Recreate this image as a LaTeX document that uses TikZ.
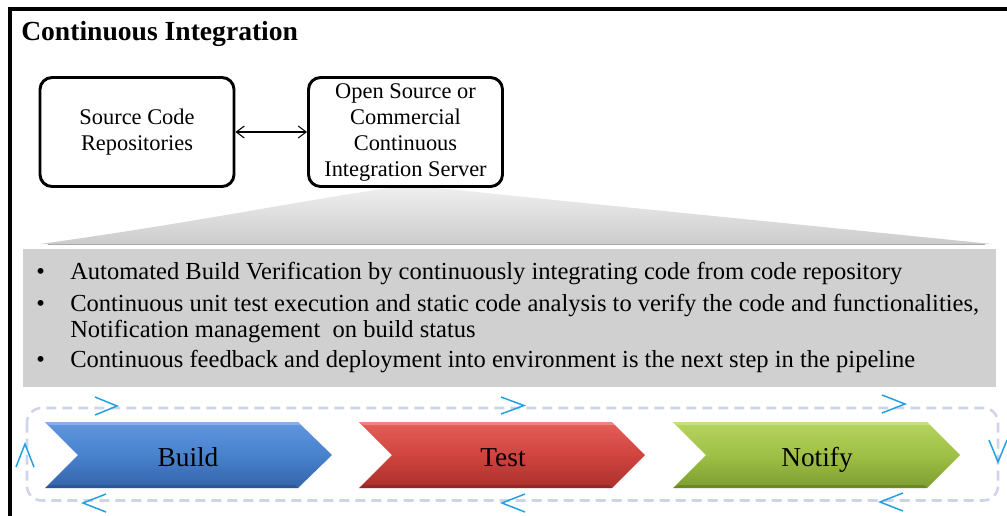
\documentclass[tikz,border=0pt]{standalone}
\usepackage{fontspec}
\setmainfont{Liberation Serif}
\usetikzlibrary{arrows.meta}
\definecolor{panelgray}{RGB}{208,208,208}
\definecolor{loopcol}{RGB}{208,212,232}
\definecolor{markcol}{RGB}{30,160,225}
\definecolor{blueT}{RGB}{96,150,222}
\definecolor{blueM}{RGB}{72,130,205}
\definecolor{blueB}{RGB}{52,100,170}
\definecolor{redT}{RGB}{228,95,88}
\definecolor{redM}{RGB}{208,68,62}
\definecolor{redB}{RGB}{170,48,44}
\definecolor{grnT}{RGB}{182,212,95}
\definecolor{grnM}{RGB}{158,192,70}
\definecolor{grnB}{RGB}{125,158,48}
\tikzset{
  box/.style={draw=black, line width=2.2pt, rounded corners=9pt, fill=white,
    minimum width=145.5pt, minimum height=81.75pt, align=center,
    font=\fontsize{16.8}{19.5}\selectfont, inner sep=0pt},
  bullettext/.style={anchor=base west, inner sep=0pt, font=\fontsize{18.4}{22}\selectfont},
  chevlabel/.style={anchor=base, inner sep=0pt, font=\fontsize{20.5}{24}\selectfont},
  loopmark/.style={draw=markcol, line width=1.1pt},
}
\begin{document}
\begin{tikzpicture}[x=0.75pt,y=-0.75pt]
\useasboundingbox (0,0) rectangle (1007,515);
% frame
\draw[line width=2.3pt] (10,520) -- (10,9) -- (1012,9);
% title
\node[anchor=base west, inner sep=0pt, font=\fontsize{20.7}{24}\selectfont\bfseries] (title) at (21,40) {Continuous Integration};
% callout trapezoid
\shade[top color=white!94!black, bottom color=white!80!black]
  (40,244) .. controls (200,222) and (330,195) .. (405,186)
  .. controls (440,188) and (480,192) .. (495,194) -- (992,244) -- cycle;
\draw[line width=1.3pt, white!66!black] (48,244.5) -- (985,244.5);
% panel
\fill[panelgray] (23,249) rectangle (996,387);
% boxes
\node[box] (src) at (137,132) {Source Code\\Repositories};
\node[box] (ci) at (405.5,132) {Open Source or\\Commercial\\Continuous\\Integration Server};
\draw[line width=0.8pt, {Straight Barb[length=6pt,width=9pt]}-{Straight Barb[length=6pt,width=9pt]}] (src.east) -- (ci.west);
% bullets
\node[bullettext] (b1) at (36,279) {\textbullet};
\node[bullettext] (b2) at (36,311) {\textbullet};
\node[bullettext] (b3) at (36,367) {\textbullet};
\node[bullettext] (t1) at (70,279) {Automated Build Verification by continuously integrating code from code repository};
\node[bullettext] (t2) at (70,311) {Continuous unit test execution and static code analysis to verify the code and functionalities,};
\node[bullettext] (t3) at (70,337) {Notification management \ on build status};
\node[bullettext] (t4) at (70,367) {Continuous feedback and deployment into environment is the next step in the pipeline};
% dashed loop
\draw[loopcol, line width=1.9pt, dash pattern=on 7.5pt off 4.5pt, rounded corners=11pt] (27,408) rectangle (998,500.5);
% loop marks
\draw[loopmark] (95,397) -- (117,406) -- (95,415);
\draw[loopmark] (501,397) -- (524,405.5) -- (501,414);
\draw[loopmark] (882,395) -- (905,404) -- (882,413);
\draw[loopmark] (106,494) -- (83,503) -- (106,512);
\draw[loopmark] (525,494) -- (502,503) -- (525,512);
\draw[loopmark] (903,493) -- (880,502) -- (903,511);
\draw[loopmark] (16,467) -- (25,444) -- (34,467);
\draw[loopmark] (989,440) -- (998,462) -- (1007,440);
% chevrons
\shade[top color=blueT, bottom color=blueB, middle color=blueM]
  (45,422) -- (298,422) -- (332,455) -- (298,488) -- (45,488) -- (78,455) -- cycle;
\shade[top color=redT, bottom color=redB, middle color=redM]
  (359,422) -- (612,422) -- (645,455) -- (612,488) -- (359,488) -- (392,455) -- cycle;
\shade[top color=grnT, bottom color=grnB, middle color=grnM]
  (673,422) -- (927,422) -- (960,455) -- (927,488) -- (673,488) -- (706,455) -- cycle;
% bevel highlights
\fill[white, opacity=0.25] (45,422) -- (298,422) -- (301,425) -- (50,425) -- cycle;
\fill[white, opacity=0.25] (359,422) -- (612,422) -- (615,425) -- (364,425) -- cycle;
\fill[white, opacity=0.25] (673,422) -- (927,422) -- (930,425) -- (678,425) -- cycle;
\fill[black, opacity=0.15] (45,488) -- (298,488) -- (295,485) -- (50,485) -- cycle;
\fill[black, opacity=0.15] (359,488) -- (612,488) -- (609,485) -- (364,485) -- cycle;
\fill[black, opacity=0.15] (673,488) -- (927,488) -- (924,485) -- (678,485) -- cycle;
\node[chevlabel] (build) at (188,466) {Build};
\node[chevlabel] (test) at (503,466) {Test};
\node[chevlabel] (notify) at (817,466) {Notify};
\end{tikzpicture}
\end{document}
